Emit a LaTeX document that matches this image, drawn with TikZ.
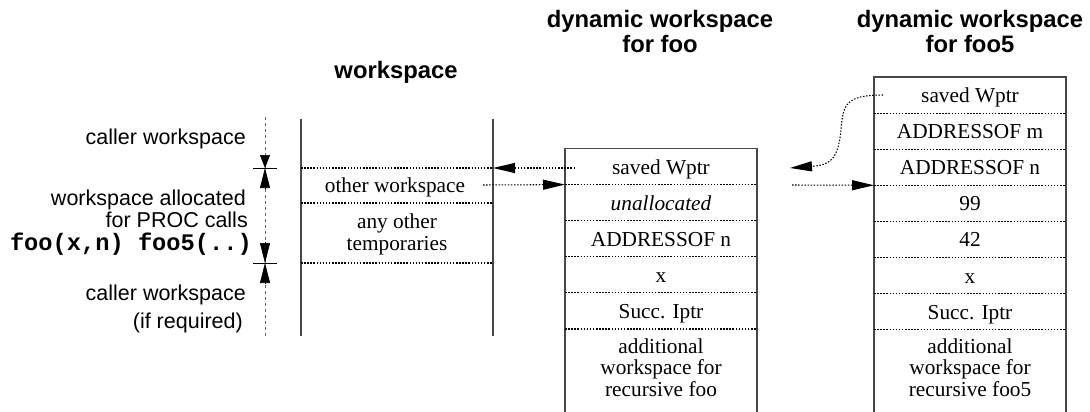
\documentclass[tikz,border=0pt]{standalone}
\usepackage{fontspec}
\setmainfont{Liberation Serif}
\setsansfont{Liberation Sans}
\setmonofont{Liberation Mono}
\usetikzlibrary{arrows.meta}
\begin{document}
\begin{tikzpicture}[x=1pt,y=-1pt,
  lbl/.style={font=\fontsize{21.5}{22.5}\selectfont\sffamily, inner sep=0pt, anchor=base east},
  monolbl/.style={font=\fontsize{23.7}{24}\selectfont\ttfamily\bfseries, inner sep=0pt, anchor=base east},
  ttl/.style={font=\fontsize{23.8}{27}\selectfont\sffamily\bfseries, inner sep=0pt, anchor=base},
  cell/.style={font=\fontsize{21.3}{21.5}\selectfont, inner sep=0pt, anchor=base},
  sepline/.style={draw=black, line width=1.05pt, dash pattern=on 1.5pt off 1.6pt},
  frame/.style={draw=black!72, line width=1.3pt},
  ptr/.style={draw=black, line width=1.05pt, dash pattern=on 1.5pt off 1.6pt, -{Triangle[length=22pt,width=10pt]}},
  dimarrow/.style={draw=black, line width=0.6pt, -{Triangle[length=20pt,width=10pt]}},
]
\useasboundingbox (0,0) rectangle (1090,412);

% ---------- left dimension scale ----------
\draw[draw=black!60, line width=1pt, dash pattern=on 3pt off 3pt] (265,117) -- (265,336);
\coordinate (tickA) at (265,168);
\coordinate (tickB) at (265,263);
\draw[line width=0.8pt] (253,168) -- (277,168);
\draw[line width=0.8pt] (253,263) -- (277,263);
\coordinate (dA1) at (265,155);
\coordinate (dA2) at (265,189);
\coordinate (dB1) at (265,242);
\coordinate (dB2) at (265,284);
\draw[draw=black, line width=0.6pt, -{Triangle[length=13pt,width=10pt]}] (dA1) -- (tickA);
\draw[dimarrow] (dA2) -- (tickA);
\draw[dimarrow] (dB1) -- (tickB);
\draw[dimarrow] (dB2) -- (tickB);

\node[lbl] (l1) at (246,144) {caller workspace};
\node[lbl] (l2) at (246,205) {workspace allocated};
\node[lbl] (l3) at (248,227) {for PROC calls};
\node[monolbl] (l4) at (252,250) {foo(x,n) foo5(..)};
\node[lbl] (l5) at (246,300) {caller workspace};
\node[lbl] (l6) at (243,328) {(if required)};

% ---------- workspace column ----------
\node[ttl] (wst) at (396,79) {workspace};
\draw[frame] (301,119) -- (301,336);
\draw[frame] (493,119) -- (493,336);
\draw[sepline] (301,168) -- (493,168);
\draw[sepline] (301,203) -- (493,203);
\draw[sepline] (301,263) -- (493,263);
\node[cell] (ow) at (395,192) {other workspace};
\node[cell] (ao1) at (397,228) {any other};
\node[cell] (ao2) at (397,250) {temporaries};
\coordinate (wsR) at (493,168);
\coordinate (owE) at (483,185);

% ---------- dynamic workspace for foo ----------
\node[ttl] (ft1) at (660,28) {dynamic workspace};
\node[ttl] (ft2) at (660,53) {for foo};
\draw[frame] (565,413) -- (565,148.5) -- (757,148.5) -- (757,413);
\foreach \y in {184.6,220.7,256.8,292.9,329.0}{
  \draw[sepline] (565,\y) -- (757,\y);
}
\node[cell] (f1) at (661,174) {saved Wptr};
\node[cell] (f2) at (661,210) {\itshape unallocated};
\node[cell] (f3) at (661,246.2) {ADDRESSOF n};
\node[cell] (f4) at (661,282.3) {x};
\node[cell] (f5) at (661,318.4) {Succ. Iptr};
\node[cell] (f6a) at (661,353) {additional};
\node[cell] (f6b) at (661,374.5) {workspace for};
\node[cell] (f6c) at (661,396) {recursive foo};
\coordinate (fooW) at (565,184.6);
\coordinate (fooS) at (575,168);

% ---------- dynamic workspace for foo5 ----------
\node[ttl] (gt1) at (970,28) {dynamic workspace};
\node[ttl] (gt2) at (970,53) {for foo5};
\draw[frame] (874,413) -- (874,77) -- (1066,77) -- (1066,413);
\foreach \y in {113.1,149.2,185.3,221.4,257.5,293.6,329.7}{
  \draw[sepline] (874,\y) -- (1066,\y);
}
\node[cell] (g1) at (970,102.5) {saved Wptr};
\node[cell] (g2) at (970,138.6) {ADDRESSOF m};
\node[cell] (g3) at (970,174.7) {ADDRESSOF n};
\node[cell] (g4) at (970,210.8) {99};
\node[cell] (g5) at (970,246.9) {42};
\node[cell] (g6) at (970,283) {x};
\node[cell] (g7) at (970,319.1) {Succ. Iptr};
\node[cell] (g8a) at (970,353) {additional};
\node[cell] (g8b) at (970,374.5) {workspace for};
\node[cell] (g8c) at (970,396) {recursive foo5};
\coordinate (g5W) at (874,185.3);
\coordinate (gS) at (883,95);
\coordinate (fooT) at (790,168);
\coordinate (fooE) at (792,185);

% ---------- pointers ----------
\draw[ptr] (fooS) -- (wsR);
\draw[ptr] (owE) -- (fooW);
\draw[ptr] (fooE) -- (g5W);
\draw[ptr] (gS) .. controls (845,95) and (843,105) .. (841,130)
            .. controls (838,160) and (830,165) .. (fooT);
\end{tikzpicture}
\end{document}
